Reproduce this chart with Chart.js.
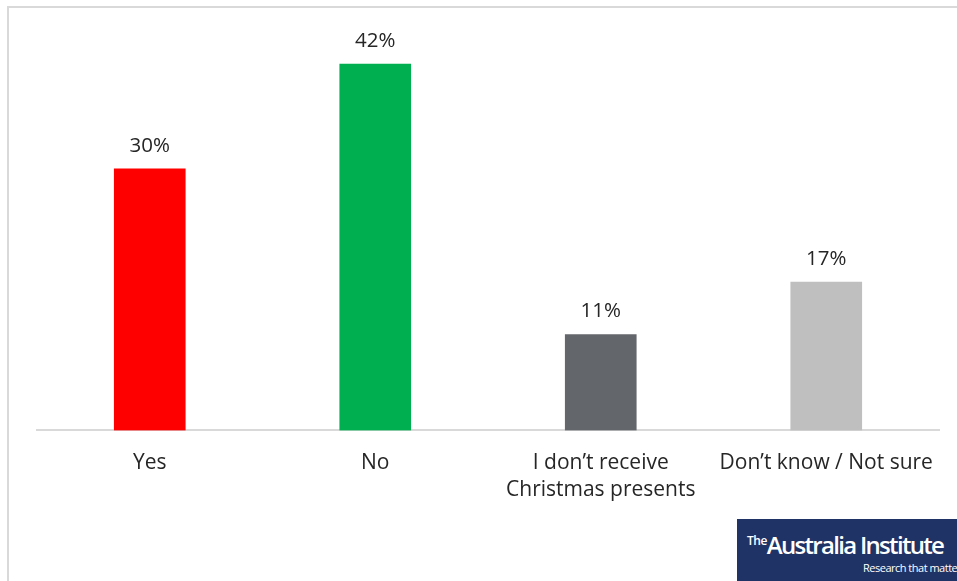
<!DOCTYPE html>
<html>
<head>
<meta charset="utf-8">
<script src="https://cdn.jsdelivr.net/npm/chart.js@4"></script>
<style>
  body { margin: 0; background: #fff; }
  #wrap { position: relative; width: 957px; height: 581px; overflow: hidden; }
  #frame { position: absolute; left: 7px; top: 6px; width: 960px; height: 590px;
           border-left: 2px solid #d9d9d9; border-top: 2px solid #d9d9d9; }
  #chartBox { position: absolute; left: 0; top: 0; width: 957px; height: 581px; }
  #logo { position: absolute; left: 737px; top: 519px; width: 230px; height: 62px;
          background: #1f3366; color: #fff; font-family: "Open Sans", sans-serif; }
  #logo .name { position: absolute; left: 10px; top: 9px; font-size: 24px; font-weight: 600; letter-spacing: -1.7px; white-space: nowrap; }
  #logo .name sup { font-size: 12px; letter-spacing: -0.5px; vertical-align: 9px; }
  #logo .tag { position: absolute; left: 126px; top: 41px; font-size: 11px; letter-spacing: -0.5px; white-space: nowrap; }
</style>
</head>
<body>
<div id="wrap">
  <div id="frame"></div>
  <div id="chartBox"><canvas id="grafico"></canvas></div>
  <div id="logo"><div class="name"><sup>The</sup>Australia Institute</div><div class="tag">Research that matters</div></div>
</div>
<script>
var categorias = ['Yes', 'No', ['I don\u2019t receive', 'Christmas presents'], 'Don\u2019t know / Not sure']
var valores = [30, 42, 11, 17]
var cores = ['#ff0000', '#00b050', '#63666a', '#bfbfbf']

// rótulos de valor em cima das barras
var rotulos = {
    id: 'rotulos',
    afterDatasetsDraw(chart) {
        var ctx = chart.ctx
        var meta = chart.getDatasetMeta(0)
        ctx.save()
        ctx.font = '20.5px "Open Sans"'
        ctx.fillStyle = '#262626'
        ctx.textAlign = 'center'
        ctx.textBaseline = 'alphabetic'
        meta.data.forEach((barra, i) => {
            ctx.fillText(valores[i] + '%', barra.x, barra.y - 17)
        })
        ctx.restore()
    }
}

const ctx = document.getElementById('grafico')
new Chart(ctx, {
    type: 'bar',
    data: {
        labels: categorias,
        datasets: [{
            data: valores,
            backgroundColor: cores,
            barThickness: 71
        }]
    },
    options: {
        responsive: true,
        maintainAspectRatio: false,
        animation: false,
        layout: { padding: { left: 37, right: 18, top: 38, bottom: 66 } },
        plugins: {
            legend: { display: false },
            tooltip: { enabled: false }
        },
        scales: {
            y: {
                display: false,
                min: 0,
                max: 45
            },
            x: {
                grid: { display: false },
                border: { display: true, color: '#d9d9d9', width: 2 },
                ticks: {
                    color: '#262626',
                    padding: 11,
                    maxRotation: 0,
                    autoSkip: false,
                    font: { family: '"Open Sans"', size: 21, lineHeight: 1.3 }
                }
            }
        }
    },
    plugins: [rotulos]
})
</script>
</body>
</html>
